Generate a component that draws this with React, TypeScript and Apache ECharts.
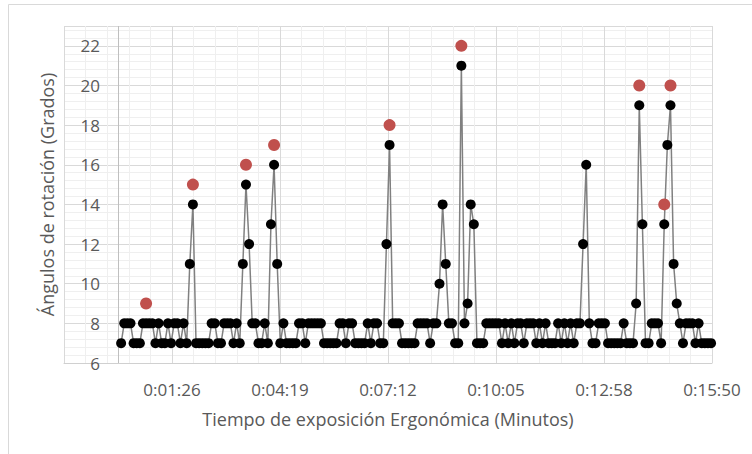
import { useEffect, useRef } from "react";
import * as echarts from "echarts";

// Sample times (seconds) — one reading every 5 s
const timeSeconds = [
  5, 10, 15, 20, 25, 30, 35, 40, 45, 50, 55, 60, 65, 70, 75, 80, 85, 90, 95, 100,
  105, 110, 115, 120, 125, 130, 135, 140, 145, 150, 155, 160, 165, 170, 175, 180, 185, 190, 195, 200,
  205, 210, 215, 220, 225, 230, 235, 240, 245, 250, 255, 260, 265, 270, 275, 280, 285, 290, 295, 300,
  305, 310, 315, 320, 325, 330, 335, 340, 345, 350, 355, 360, 365, 370, 375, 380, 385, 390, 395, 400,
  405, 410, 415, 420, 425, 430, 435, 440, 445, 450, 455, 460, 465, 470, 475, 480, 485, 490, 495, 500,
  505, 510, 515, 520, 525, 530, 535, 540, 545, 550, 555, 560, 565, 570, 575, 580, 585, 590, 595, 600,
  605, 610, 615, 620, 625, 630, 635, 640, 645, 650, 655, 660, 665, 670, 675, 680, 685, 690, 695, 700,
  705, 710, 715, 720, 725, 730, 735, 740, 745, 750, 755, 760, 765, 770, 775, 780, 785, 790, 795, 800,
  805, 810, 815, 820, 825, 830, 835, 840, 845, 850, 855, 860, 865, 870, 875, 880, 885, 890, 895, 900,
  905, 910, 915, 920, 925, 930, 935, 940, 945, 950,
];

// Rotation angle (degrees) at each sample
const angleDegrees = [
  7, 8, 8, 8, 7, 7, 7, 8, 8, 8, 8, 7, 8, 7, 7, 8, 7, 8, 8, 7,
  8, 7, 11, 14, 7, 7, 7, 7, 7, 8, 8, 7, 7, 8, 8, 8, 7, 8, 7, 11,
  15, 12, 8, 8, 7, 7, 8, 7, 13, 16, 11, 7, 8, 7, 7, 7, 7, 8, 8, 7,
  8, 8, 8, 8, 8, 7, 7, 7, 7, 7, 8, 8, 7, 8, 8, 7, 7, 7, 7, 8,
  7, 8, 8, 7, 7, 12, 17, 8, 8, 8, 7, 7, 7, 7, 7, 8, 8, 8, 8, 7,
  8, 8, 10, 14, 11, 8, 8, 7, 7, 21, 8, 9, 14, 13, 7, 7, 7, 8, 8, 8,
  8, 8, 7, 8, 7, 8, 7, 8, 8, 7, 8, 8, 8, 7, 8, 7, 8, 7, 7, 7,
  8, 7, 8, 7, 8, 7, 8, 8, 12, 16, 8, 7, 7, 8, 8, 8, 7, 7, 7, 7,
  7, 8, 7, 7, 7, 9, 19, 13, 7, 7, 8, 8, 8, 7, 13, 17, 19, 11, 9, 8,
  7, 8, 8, 8, 7, 8, 7, 7, 7, 7,
];

// Highlighted peak markers (red)
const peakTimes = [45, 120, 205, 250, 435, 550, 835, 875, 885];
const peakValues = [9, 15, 16, 17, 18, 22, 20, 14, 20];

// Axis tick labels (x ticks every 173 s starting one step before 0:01:26)
const xTickLabels = ["", "0:01:26", "0:04:19", "0:07:12", "0:10:05", "0:12:58", "0:15:50"];
const xTitle = "Tiempo de exposición Ergonómica (Minutos)";
const yTitle = "Ángulos de rotación (Grados)";

const X_MIN = -86.5;
const X_MAX = 951.5;
const X_STEP = 173;

export default function App() {
  const ref = useRef<HTMLDivElement>(null);

  useEffect(() => {
    if (!ref.current) return;
    const chart = echarts.init(ref.current, undefined, { renderer: "svg" });
    const font = "'Open Sans', sans-serif";
    const textColor = "#595959";

    const lineData = timeSeconds.map((t, i) => [t, angleDegrees[i]]);
    const peakData = peakTimes.map((t, i) => [t, peakValues[i]]);

    chart.setOption({
      animation: false,
      backgroundColor: "#ffffff",
      graphic: [
        {
          type: "rect",
          shape: { x: 8.5, y: 4.5, width: 800, height: 500 },
          style: { fill: "none", stroke: "#d9d9d9", lineWidth: 1 },
          silent: true,
        },
      ],
      grid: { left: 64, right: 40, top: 26, bottom: 91, outerBoundsMode: "none", containLabel: false },
      xAxis: {
        type: "value",
        min: X_MIN,
        max: X_MAX,
        interval: X_STEP,
        axisLine: { show: true, onZero: false, lineStyle: { color: "#d0d0d0", width: 1 } },
        axisTick: { show: false },
        axisLabel: {
          margin: 18,
          color: textColor,
          fontFamily: font,
          fontSize: 17,
          showMinLabel: true,
          showMaxLabel: true,
          formatter: (v: number) => {
            const idx = Math.round((v - X_MIN) / X_STEP);
            return xTickLabels[idx] ?? "";
          },
        },
        splitLine: { show: true, lineStyle: { color: "#d9d9d9", width: 1 } },
        minorTick: { show: false, splitNumber: 5 },
        minorSplitLine: { show: true, lineStyle: { color: "#efefef", width: 1 } },
        name: xTitle,
        nameLocation: "middle",
        nameGap: 47,
        nameTextStyle: { color: textColor, fontFamily: font, fontSize: 18 },
      },
      yAxis: {
        type: "value",
        min: 6,
        max: 23,
        interval: 2,
        axisLine: { show: false, onZero: false },
        axisTick: { show: false },
        axisLabel: {
          inside: true,
          align: "right",
          margin: 36,
          color: textColor,
          fontFamily: font,
          fontSize: 17,
          formatter: (v: number) => (v > 22 ? "" : String(v)),
        },
        splitLine: { show: true, lineStyle: { color: "#d9d9d9", width: 1 } },
        minorTick: { show: false, splitNumber: 5 },
        minorSplitLine: { show: true, lineStyle: { color: "#efefef", width: 1 } },
        name: yTitle,
        nameLocation: "middle",
        nameGap: 6,
        nameTextStyle: { color: textColor, fontFamily: font, fontSize: 18 },
      },
      series: [
        {
          type: "line",
          data: lineData,
          symbol: "circle",
          symbolSize: 10,
          showAllSymbol: true,
          lineStyle: { color: "#808080", width: 1.5 },
          itemStyle: { color: "#000000" },
          z: 2,
          markLine: {
            silent: true,
            symbol: "none",
            label: { show: false },
            lineStyle: { color: "#bfbfbf", type: "solid", width: 1 },
            data: [{ xAxis: 0 }],
            z: 1,
          },
        },
        {
          type: "scatter",
          data: peakData,
          symbol: "circle",
          symbolSize: 12,
          itemStyle: { color: "#C0504D", opacity: 1 },
          z: 3,
        },
      ],
    });

    return () => chart.dispose();
  }, []);

  return (
    <div
      ref={ref}
      style={{ position: "fixed", left: 0, top: 0, width: 752, height: 454, background: "#fff" }}
    />
  );
}
